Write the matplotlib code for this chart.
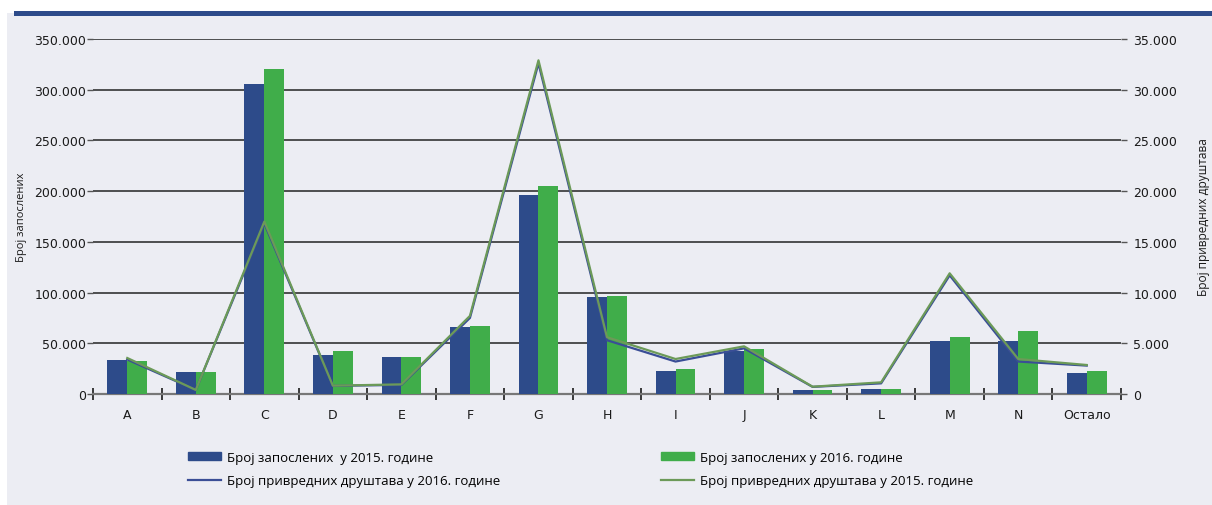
import matplotlib

matplotlib.use("Agg")

import matplotlib.pyplot as plt
import numpy as np
from matplotlib.lines import Line2D
from matplotlib.patches import Rectangle
from matplotlib.ticker import FixedLocator, FuncFormatter

PANEL = "#ECEDF3"
NAVY = "#2D4B8A"
GREEN = "#40AD4A"
LINE_BLUE = "#3A4E96"
LINE_GREEN = "#6C9A58"
INK = "#1A1A1A"

plt.rcParams["font.family"] = ["Open Sans", "DejaVu Sans"]
TICK_FONT = "DejaVu Sans"

categories = ["A", "B", "C", "D", "E", "F", "G", "H", "I", "J", "K", "L", "M", "N", "Остало"]
employees_2015 = [34000, 21700, 306000, 38500, 36500, 66000, 196000, 95500, 22700, 42400,
                  4200, 5200, 52500, 52000, 20700]
employees_2016 = [32500, 21500, 320000, 42400, 36500, 67000, 205000, 97000, 24500, 44400,
                  3900, 5000, 56000, 62000, 22700]
companies_2016 = [3400, 400, 16800, 800, 900, 7500, 32600, 5300, 3200, 4500,
                  700, 1050, 11700, 3200, 2800]
companies_2015 = [3550, 400, 17000, 820, 950, 7700, 32900, 5600, 3450, 4700,
                  720, 1150, 11900, 3450, 2860]

label_emp_2015 = "Број запослених  у 2015. године"
label_emp_2016 = "Број запослених у 2016. године"
label_co_2016 = "Број привредних друштава у 2016. године"
label_co_2015 = "Број привредних друштава у 2015. године"


def thousands(v, _pos):
    return f"{int(v):,}".replace(",", ".")


fig = plt.figure(figsize=(12.12, 5.06), dpi=100)
fig.patch.set_facecolor("white")
# panel background and top stripe, kept below the axes
fig.patches.append(Rectangle((7 / 1212, 0), 1 - 7 / 1212, 1 - 14 / 506,
                             transform=fig.transFigure, facecolor=PANEL,
                             edgecolor="none", zorder=-10))
fig.patches.append(Rectangle((14 / 1212, 1 - 17 / 506), 1 - 14 / 1212, 5 / 506,
                             transform=fig.transFigure, facecolor=NAVY,
                             edgecolor="none", zorder=-9))

ax = fig.add_axes([93 / 1212, 111 / 506, 1028 / 1212, 355 / 506])
ax.set_facecolor("none")
x = np.arange(len(categories))
w = 0.29
ax.bar(x - w / 2, employees_2015, w, color=NAVY, zorder=3)
ax.bar(x + w / 2, employees_2016, w, color=GREEN, zorder=3)
ax.set_xlim(-0.5, len(categories) - 0.5)
ax.set_ylim(0, 350000)
ax.yaxis.set_major_locator(FixedLocator(np.arange(0, 350001, 50000)))
ax.yaxis.set_major_formatter(FuncFormatter(thousands))
ax.grid(axis="y", color="#333333", linewidth=1.2, zorder=1)
ax.set_axisbelow(True)
ax.set_xticks(x)
ax.set_xticklabels(categories)
ax.set_xticks(np.arange(-0.5, len(categories), 1), minor=True)
ax.tick_params(axis="x", which="major", length=0, pad=10, labelsize=9, colors=INK)
ax.tick_params(axis="x", which="minor", length=8, direction="inout", width=1.2, color=INK)
ax.tick_params(axis="y", length=4, width=1, color="#555555", labelsize=9,
               labelcolor=INK, pad=1)
for lab in ax.get_xticklabels() + ax.get_yticklabels():
    lab.set_family(TICK_FONT)
for s in ("top", "right", "left"):
    ax.spines[s].set_visible(False)
ax.spines["bottom"].set_color("#777777")
ax.spines["bottom"].set_linewidth(1.6)
ax.set_ylabel("Број запослених", fontsize=8, color=INK, labelpad=5)

ax2 = ax.twinx()
ax2.plot(x, companies_2016, color=LINE_BLUE, linewidth=1.6, zorder=4)
ax2.plot(x, companies_2015, color=LINE_GREEN, linewidth=1.6, zorder=5)
ax2.set_ylim(0, 35000)
ax2.yaxis.set_major_locator(FixedLocator(np.arange(0, 35001, 5000)))
ax2.yaxis.set_major_formatter(FuncFormatter(thousands))
ax2.tick_params(axis="y", length=4, width=1, color="#555555", labelsize=9,
                labelcolor=INK, pad=5)
for lab in ax2.get_yticklabels():
    lab.set_family(TICK_FONT)
for s in ax2.spines.values():
    s.set_visible(False)
ax2.set_ylabel("Број привредних друштава", fontsize=8.6, color=INK, labelpad=14)

handles = [
    Rectangle((0, 0), 1, 1, color=NAVY),
    Line2D([0], [0], color=LINE_BLUE, linewidth=1.6),
    Rectangle((0, 0), 1, 1, color=GREEN),
    Line2D([0], [0], color=LINE_GREEN, linewidth=1.6),
]
labels = [label_emp_2015, label_co_2016, label_emp_2016, label_co_2015]
fig.legend(handles, labels, ncol=2, loc="upper left",
           bbox_to_anchor=(176 / 1212, 1 - 440 / 506), frameon=False,
           fontsize=9.5, handlelength=2.5, handleheight=0.6, handletextpad=0.45,
           columnspacing=12.2, labelspacing=0.8)

fig.savefig("out.png", dpi=100, facecolor=fig.get_facecolor())
